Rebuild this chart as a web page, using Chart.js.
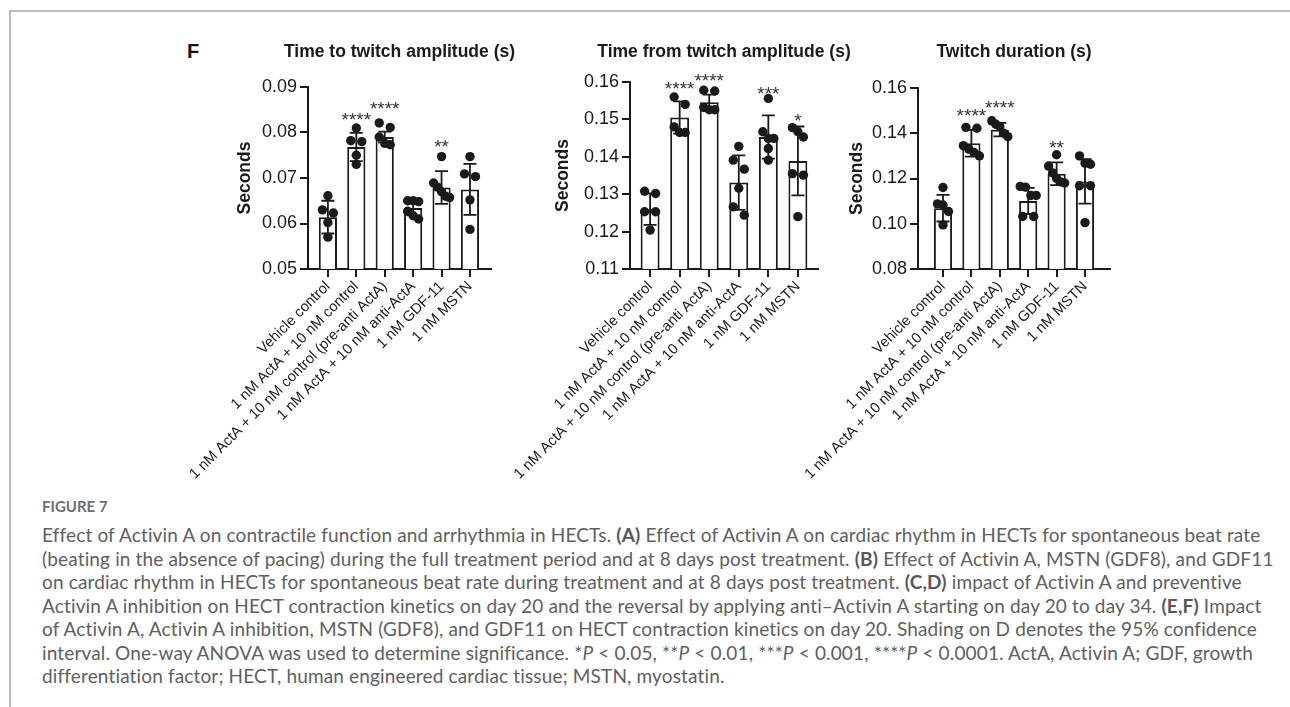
<!DOCTYPE html>
<html>
<head>
<meta charset="utf-8">
<title>Figure 7F</title>
<script src="https://cdn.jsdelivr.net/npm/chart.js@4.4.1/dist/chart.umd.min.js"></script>
<style>
  html, body { margin: 0; padding: 0; background: #fff; }
  #page { position: relative; width: 1290px; height: 707px; overflow: hidden; }
  #frame { position: absolute; left: 9px; top: 10px; right: -4px; bottom: -4px;
           border-left: 2px solid #bcbcbc; border-top: 2px solid #bcbcbc; }
  canvas { position: absolute; }
  #panel { position: absolute; left: 187px; top: 40px; font: bold 20px "Liberation Sans", Arial, sans-serif; color: #111; }
  #figno { position: absolute; left: 42px; top: 496px; font: bold 15px Lato, sans-serif; color: #6e6e6e; line-height: 20px; }
  #caption { position: absolute; left: 42px; top: 523px; font-family: Lato, sans-serif; font-size: 19px;
             letter-spacing: 0.15px; line-height: 23.5px; color: #606060; white-space: nowrap; }
  #caption b { color: #585858; }
</style>
</head>
<body>
<div id="page">
  <div id="frame"></div>
  <div id="panel">F</div>
  <canvas id="c1"></canvas>
  <canvas id="c2"></canvas>
  <canvas id="c3"></canvas>
  <div id="figno">FIGURE 7</div>
  <div id="caption">
    <div>Effect of Activin A on contractile function and arrhythmia in HECTs. <b>(A)</b> Effect of Activin A on cardiac rhythm in HECTs for spontaneous beat rate</div>
    <div>(beating in the absence of pacing) during the full treatment period and at 8 days post treatment. <b>(B)</b> Effect of Activin A, MSTN (GDF8), and GDF11</div>
    <div>on cardiac rhythm in HECTs for spontaneous beat rate during treatment and at 8 days post treatment. <b>(C,D)</b> impact of Activin A and preventive</div>
    <div>Activin A inhibition on HECT contraction kinetics on day 20 and the reversal by applying anti–Activin A starting on day 20 to day 34. <b>(E,F)</b> Impact</div>
    <div>of Activin A, Activin A inhibition, MSTN (GDF8), and GDF11 on HECT contraction kinetics on day 20. Shading on D denotes the 95% confidence</div>
    <div>interval. One-way ANOVA was used to determine significance. *<i>P</i> &lt; 0.05, **<i>P</i> &lt; 0.01, ***<i>P</i> &lt; 0.001, ****<i>P</i> &lt; 0.0001. ActA, Activin A; GDF, growth</div>
    <div>differentiation factor; HECT, human engineered cardiac tissue; MSTN, myostatin.</div>
  </div>
</div>
<script>
const categories = [
  'Vehicle control',
  '1 nM ActA + 10 nM control',
  '1 nM ActA + 10 nM control (pre-anti ActA)',
  '1 nM ActA + 10 nM anti-ActA',
  '1 nM GDF-11',
  '1 nM MSTN'
];

// time to twitch amplitude
const riseTicks = [0.05, 0.06, 0.07, 0.08, 0.09];
const riseMeans = [0.0614, 0.0768, 0.0790, 0.0634, 0.0679, 0.0675];
const riseSD = [0.0036, 0.0031, 0.0012, 0.0016, 0.0036, 0.0056];
const risePoints = [
  [0.0661, 0.0630, 0.0623, 0.0602, 0.0570],
  [0.0810, 0.0782, 0.0780, 0.0750, 0.0730],
  [0.0821, 0.0811, 0.0790, 0.0776, 0.0773],
  [0.0650, 0.0650, 0.0648, 0.0627, 0.0617, 0.0610],
  [0.0747, 0.0689, 0.0680, 0.0670, 0.0660, 0.0657],
  [0.0747, 0.0709, 0.0703, 0.0652, 0.0587]
];
const riseStars = ['', '****', '****', '', '**', ''];
const riseStarAt = [null, 0.0839, 0.0863, null, 0.0780, null];

// time from twitch amplitude
const decayTicks = [0.11, 0.12, 0.13, 0.14, 0.15, 0.16];
const decayMeans = [0.1260, 0.1505, 0.1546, 0.1331, 0.1453, 0.1389];
const decaySD = [0.0042, 0.0043, 0.0020, 0.0073, 0.0058, 0.0092];
const decayPoints = [
  [0.1308, 0.1302, 0.1253, 0.1253, 0.1204],
  [0.1560, 0.1540, 0.1480, 0.1465, 0.1465],
  [0.1578, 0.1576, 0.1532, 0.1526, 0.1526],
  [0.1428, 0.1391, 0.1367, 0.1316, 0.1266, 0.1244],
  [0.1556, 0.1467, 0.1449, 0.1449, 0.1422, 0.1391],
  [0.1478, 0.1467, 0.1453, 0.1355, 0.1351, 0.1240]
];
const decayStars = ['', '****', '****', '', '***', '*'];
const decayStarAt = [null, 0.1596, 0.1615, null, 0.1582, 0.1508];

// twitch duration
const durationTicks = [0.08, 0.10, 0.12, 0.14, 0.16];
const durationMeans = [0.1069, 0.1356, 0.1416, 0.1101, 0.1221, 0.1187];
const durationSD = [0.0059, 0.0059, 0.0030, 0.0058, 0.0050, 0.0098];
const durationPoints = [
  [0.1160, 0.1088, 0.1083, 0.1054, 0.0995],
  [0.1426, 0.1422, 0.1345, 0.1330, 0.1315, 0.1300],
  [0.1455, 0.1440, 0.1430, 0.1400, 0.1385],
  [0.1165, 0.1162, 0.1125, 0.1125, 0.1032, 0.1032],
  [0.1305, 0.1255, 0.1225, 0.1200, 0.1185, 0.1180],
  [0.1300, 0.1268, 0.1263, 0.1168, 0.1168, 0.1005]
];
const durationStars = ['', '****', '****', '', '**', ''];
const durationStarAt = [null, 0.1497, 0.1534, null, 0.1356, null];

const FONT = '"Liberation Sans", Arial, Helvetica, sans-serif';
const INK = '#1a1a1a';
const SIDE_W = 140;          // room for the y axis on the left, mirrored on the right
const X_AXIS_H = 215;
const CANVAS_TOP = 20;
const TITLE_Y = 52;
const TITLE_SIZE = 17.5;
const AXIS_TITLE_SIZE = 17.5;

const panels = [
  { id: 'c1', title: 'Time to twitch amplitude (s)', ticks: riseTicks, means: riseMeans, sd: riseSD,
    points: risePoints, stars: riseStars, starAt: riseStarAt,
    axisX: 308, top: 87, bottom: 269, right: 491, xMin: -0.70, xMax: 5.74, labelGap: 63 },
  { id: 'c2', title: 'Time from twitch amplitude (s)', ticks: decayTicks, means: decayMeans, sd: decaySD,
    points: decayPoints, stars: decayStars, starAt: decayStarAt,
    axisX: 630, top: 82, bottom: 269, right: 818, xMin: -0.68, xMax: 5.68, labelGap: 67 },
  { id: 'c3', title: 'Twitch duration (s)', ticks: durationTicks, means: durationMeans, sd: durationSD,
    points: durationPoints, stars: durationStars, starAt: durationStarAt,
    axisX: 918, top: 88, bottom: 269, right: 1110, xMin: -0.88, xMax: 5.88, labelGap: 61 }
];

// spread overlapping dots sideways, like a column scatter
function spread(values, pxPerY, pxPerX) {
  const sorted = values.slice().sort((a, b) => b - a);
  const groups = [];
  sorted.forEach(v => {
    const g = groups[groups.length - 1];
    if (g && (g[g.length - 1] - v) * pxPerY < 9) g.push(v);
    else groups.push([v]);
  });
  const out = [];
  groups.forEach(g => {
    let step = g.length === 2 ? 11 : 5.5;
    if (g.length > 3) step = Math.min(step, 16 / (g.length - 1));
    g.forEach((v, j) => out.push({ v, dx: (j - (g.length - 1) / 2) * step / pxPerX }));
  });
  return out;
}

function overlay(p) {
  return {
    id: 'marks_' + p.id,
    afterDatasetDraw(chart, args) {
      if (args.meta.type !== 'bar') return;
      const { ctx, scales: { x, y } } = chart;
      ctx.save();
      ctx.strokeStyle = INK;
      ctx.lineWidth = 1.8;
      p.means.forEach((m, i) => {
        const cx = x.getPixelForValue(i);
        const hi = y.getPixelForValue(m + p.sd[i]);
        const lo = y.getPixelForValue(m - p.sd[i]);
        ctx.beginPath();
        ctx.moveTo(cx, hi); ctx.lineTo(cx, lo);
        ctx.moveTo(cx - 6.5, hi); ctx.lineTo(cx + 6.5, hi);
        ctx.moveTo(cx - 6.5, lo); ctx.lineTo(cx + 6.5, lo);
        ctx.stroke();
      });
      ctx.restore();
    },
    afterDatasetsDraw(chart) {
      const { ctx, scales: { x, y } } = chart;
      ctx.save();
      ctx.fillStyle = '#333';
      ctx.font = '19px ' + FONT;
      ctx.textAlign = 'center';
      ctx.textBaseline = 'alphabetic';
      p.stars.forEach((s, i) => {
        if (!s) return;
        ctx.fillText(s, x.getPixelForValue(i), y.getPixelForValue(p.starAt[i]) + 0.58 * 19);
      });
      ctx.restore();
    }
  };
}

panels.forEach(p => {
  const canvas = document.getElementById(p.id);
  const plotW = p.right - p.axisX;
  const w = 2 * SIDE_W + plotW;
  const h = p.bottom + X_AXIS_H - CANVAS_TOP;
  canvas.width = w;
  canvas.height = h;
  canvas.style.left = (p.axisX - SIDE_W) + 'px';
  canvas.style.top = CANVAS_TOP + 'px';
  canvas.style.width = w + 'px';
  canvas.style.height = h + 'px';

  const yMin = p.ticks[0];
  const yMax = p.ticks[p.ticks.length - 1];
  const pxPerY = (p.bottom - p.top) / (yMax - yMin);
  const pxPerX = plotW / (p.xMax - p.xMin);

  const dots = [];
  p.points.forEach((vals, i) => {
    spread(vals, pxPerY, pxPerX).forEach(d => dots.push({ x: i + d.dx, y: d.v }));
  });

  const titleLine = TITLE_SIZE * 1.2;
  const titleTop = TITLE_Y - CANVAS_TOP - titleLine / 2;
  const titleBottom = (p.top - CANVAS_TOP) - titleTop - titleLine;
  const axisTitleLine = AXIS_TITLE_SIZE * 1.2;

  new Chart(canvas, {
    type: 'bar',
    data: {
      datasets: [
        {
          type: 'scatter',
          data: dots,
          order: 0,
          pointRadius: 4.7,
          pointHoverRadius: 4.7,
          pointBackgroundColor: INK,
          pointBorderWidth: 0
        },
        {
          type: 'bar',
          data: p.means.map((m, i) => ({ x: i, y: m })),
          order: 1,
          backgroundColor: '#ffffff',
          borderColor: INK,
          borderWidth: 2,
          barPercentage: 0.64,
          categoryPercentage: 1
        }
      ]
    },
    options: {
      responsive: false,
      animation: false,
      events: [],
      layout: { padding: 0 },
      plugins: {
        legend: { display: false },
        tooltip: { enabled: false },
        title: {
          display: true,
          text: p.title,
          color: INK,
          font: { family: FONT, size: TITLE_SIZE, weight: 'bold', lineHeight: 1.2 },
          padding: { top: titleTop, bottom: titleBottom }
        }
      },
      scales: {
        x: {
          type: 'linear',
          min: p.xMin,
          max: p.xMax,
          offset: false,
          afterBuildTicks: s => { s.ticks = categories.map((c, i) => ({ value: i })); },
          afterFit: s => { s.height = X_AXIS_H; },
          grid: { display: true, drawOnChartArea: false, drawTicks: true, offset: false,
                  color: INK, lineWidth: 2, tickLength: 8 },
          border: { display: true, color: INK, width: 2 },
          ticks: {
            autoSkip: false,
            minRotation: 45,
            maxRotation: 45,
            padding: 1,
            color: INK,
            font: { family: FONT, size: 14.7 },
            callback: v => categories[v]
          }
        },
        y: {
          type: 'linear',
          min: yMin,
          max: yMax,
          afterBuildTicks: s => { s.ticks = p.ticks.map(v => ({ value: v })); },
          afterFit: s => { s.width = SIDE_W; },
          grid: { display: true, drawOnChartArea: false, drawTicks: true,
                  color: INK, lineWidth: 2, tickLength: 8 },
          border: { display: true, color: INK, width: 2 },
          ticks: {
            padding: 3,
            color: INK,
            font: { family: FONT, size: 18 },
            callback: v => Number(v).toFixed(2)
          },
          title: {
            display: true,
            text: 'Seconds',
            color: INK,
            font: { family: FONT, size: AXIS_TITLE_SIZE, weight: 'bold', lineHeight: 1.2 },
            padding: { top: SIDE_W - p.labelGap - axisTitleLine / 2, bottom: 0 }
          }
        },
        // empty right-hand axis so the panel title centres over the plot
        yRight: {
          type: 'linear',
          position: 'right',
          min: yMin,
          max: yMax,
          grid: { display: false },
          border: { display: false },
          ticks: { display: false },
          afterFit: s => { s.width = SIDE_W; }
        }
      }
    },
    plugins: [overlay(p)]
  });
});
</script>
</body>
</html>
